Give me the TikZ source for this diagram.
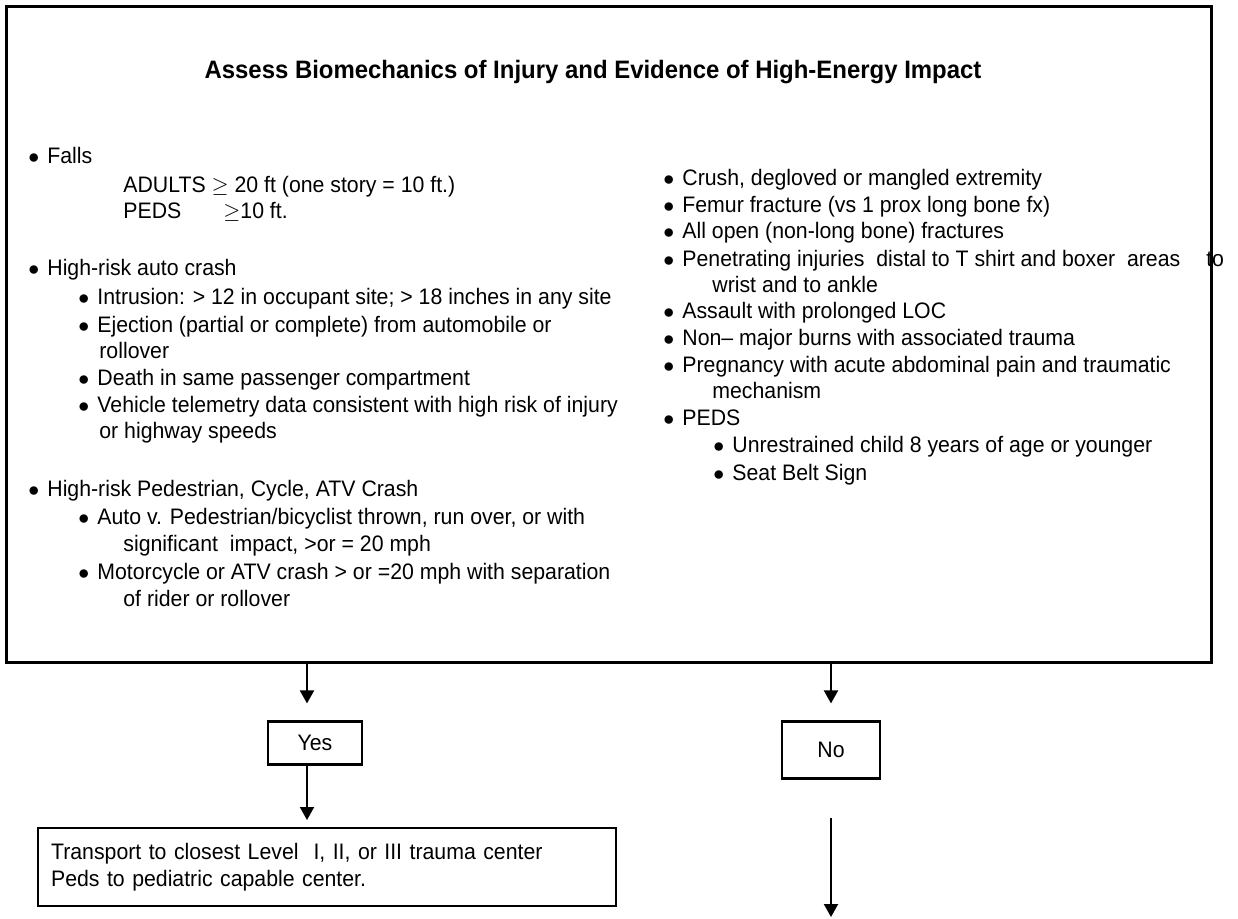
\documentclass[tikz,border=0pt]{standalone}
\usepackage{fontspec}
\setmainfont[FakeStretch=0.95]{Liberation Sans}
\usepackage{tikz}
\usetikzlibrary{arrows.meta}

\newcommand{\bu}{\makebox[9.5pt][l]{$\bullet$}}

\begin{document}
\begin{tikzpicture}[x=0.5pt,y=-0.5pt]
        \tikzstyle{txt} = [anchor=mid west, inner sep=0pt, font=\fontsize{11.2}{13.5}\selectfont]
        \tikzstyle{ttl} = [inner sep=0pt, font=\fontsize{12.6}{14}\selectfont\bfseries]
        \tikzstyle{frame} = [draw, line width=1.3pt, inner sep=0pt]
        \tikzstyle{b} = [draw, line width=1.1pt, font=\fontsize{11.2}{13.5}\selectfont]
        \tikzstyle{e} = [line width=1pt, -{Triangle[width=7pt,length=6.5pt]}]
        \useasboundingbox (0,0) rectangle (1238,918);

        % criteria box
        \node[frame, anchor=north west, minimum width=602.5pt, minimum height=328pt](crit) at (5,5){};
        \node[ttl](title) at (593,72){Assess Biomechanics of Injury and Evidence of High-Energy Impact};

        % left column
        \node[txt](falls) at (28,158){\bu Falls};
        \node[txt](adults) at (123,187){ADULTS $\geq$ 20 ft (one story = 10 ft.)};
        \node[txt](peds) at (123,213){PEDS};
        \node[txt](pedsft) at (223,213){$\geq$10 ft.};
        \node[txt](auto) at (28,270){\bu High-risk auto crash};
        \node[txt](intr) at (78,299){\bu Intrusion: > 12 in occupant site; > 18 inches in any site};
        \node[txt](eject) at (78,327){\bu Ejection (partial or complete) from automobile or};
        \node[txt](eject2) at (99,353){rollover};
        \node[txt](death) at (78,380){\bu Death in same passenger compartment};
        \node[txt](tele) at (78,407){\bu Vehicle telemetry data consistent with high risk of injury};
        \node[txt](tele2) at (99,433){or highway speeds};
        \node[txt](ped) at (28,491){\bu High-risk Pedestrian, Cycle, ATV Crash};
        \node[txt](autov) at (78,519){\bu Auto v. Pedestrian/bicyclist thrown, run over, or with};
        \node[txt](autov2) at (123,546){significant\ \ impact, >or = 20 mph};
        \node[txt](moto) at (78,574){\bu Motorcycle or ATV crash > or =20 mph with separation};
        \node[txt](moto2) at (123,601){of rider or rollover};

        % right column
        \node[txt](crush) at (663,180){\bu Crush, degloved or mangled extremity};
        \node[txt](femur) at (663,207){\bu Femur fracture (vs 1 prox long bone fx)};
        \node[txt](open) at (663,233){\bu All open (non-long bone) fractures};
        \node[txt](pen) at (663,261){\bu Penetrating injuries\ \ distal to T shirt and boxer\ \ areas\hspace{13pt}to};
        \node[txt](pen2) at (712,287){wrist and to ankle};
        \node[txt](assault) at (663,313){\bu Assault with prolonged LOC};
        \node[txt](burns) at (663,340){\bu Non– major burns with associated trauma};
        \node[txt](preg) at (663,367){\bu Pregnancy with acute abdominal pain and traumatic};
        \node[txt](preg2) at (712,393){mechanism};
        \node[txt](pedsr) at (663,420){\bu PEDS};
        \node[txt](child) at (713,447){\bu Unrestrained child 8 years of age or younger};
        \node[txt](belt) at (713,475){\bu Seat Belt Sign};

        % outcomes
        \coordinate (ycol) at (307,0);
        \node[b, minimum width=47pt, minimum height=21.5pt](yes) at (315,743){\raisebox{-1.5pt}{Yes}};
        \node[b, minimum width=49pt, minimum height=28.5pt](no) at (831,750){No};
        \node[b, anchor=north west, align=left, text width=276pt, inner xsep=6.5pt, minimum height=39pt](trans) at (37,827){Transport to closest Level\ \ I, II, or III trauma center\\Peds to pediatric capable center.};
        \coordinate (nfrom) at (831,818);
        \coordinate (nto) at (831,917);

        \draw[e, shorten >=8.5pt](crit.south -| ycol) -- (yes.north -| ycol);
        \draw[e, shorten >=3.5pt](yes.south -| ycol) -- (trans.north -| ycol);
        \draw[e, shorten >=8.5pt](crit.south -| no) -- (no.north);
        \draw[e](nfrom) -- (nto);

    \end{tikzpicture}
\end{document}
